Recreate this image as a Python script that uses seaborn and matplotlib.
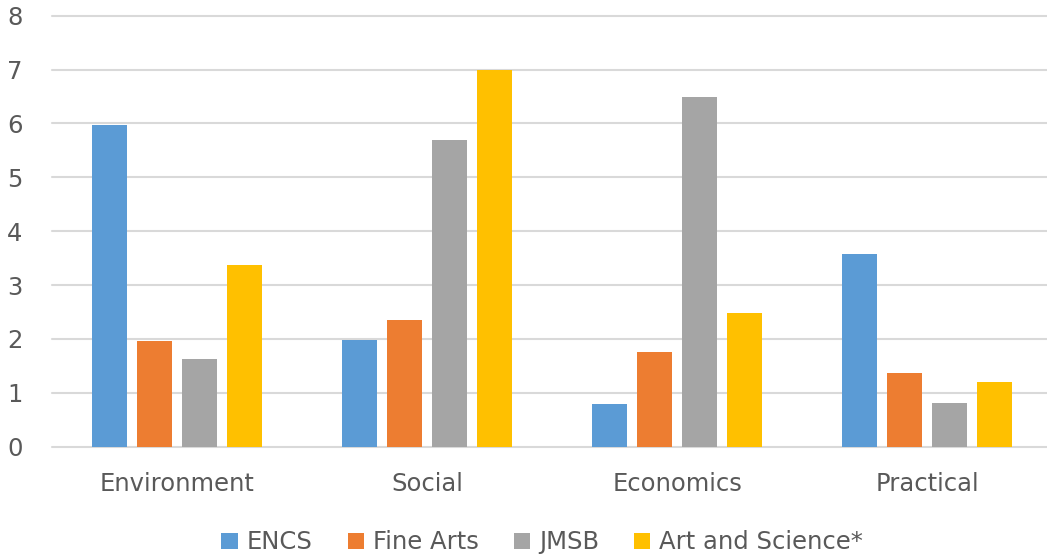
import matplotlib
matplotlib.use("Agg")
import matplotlib.pyplot as plt
import seaborn as sns
import pandas as pd

# Survey scores by topic and faculty
categories = ["Environment", "Social", "Economics", "Practical"]
faculties = ["ENCS", "Fine Arts", "JMSB", "Art and Science*"]
encs = [5.97, 1.99, 0.79, 3.58]
fine_arts = [1.96, 2.35, 1.76, 1.37]
jmsb = [1.62, 5.69, 6.50, 0.81]
art_science = [3.37, 6.99, 2.48, 1.20]
y_ticks = [0, 1, 2, 3, 4, 5, 6, 7, 8]

colors = ["#5B9BD5", "#ED7D31", "#A5A5A5", "#FFC000"]

rows = []
for fac, vals in zip(faculties, [encs, fine_arts, jmsb, art_science]):
    for cat, v in zip(categories, vals):
        rows.append({"Category": cat, "Faculty": fac, "Value": v})
df = pd.DataFrame(rows)

sns.set_theme(style="white")
plt.rcParams["font.family"] = ["DejaVu Sans"]

fig = plt.figure(figsize=(10.47, 5.57), dpi=100)
ax = fig.add_axes([0.04995, 0.198, 0.9551, 0.7738])

sns.barplot(data=df, x="Category", y="Value", hue="Faculty",
            order=categories, hue_order=faculties, palette=colors,
            width=0.72, gap=0.22, errorbar=None, saturation=1,
            linewidth=0, ax=ax, zorder=3)

ax.set_xlim(-0.5, 3.5)
ax.set_ylim(0, 8)
ax.set_yticks(y_ticks)
ax.set_yticklabels([str(t) for t in y_ticks])
ax.set_xlabel("")
ax.set_ylabel("")
ax.yaxis.grid(True, color="#D9D9D9", linewidth=1.5, zorder=0)
for gl in ax.get_ygridlines():
    gl.set_clip_on(False)
ax.set_axisbelow(True)
for s in ax.spines.values():
    s.set_visible(False)
ax.tick_params(axis="y", length=0, pad=21.5, labelsize=17.5, labelcolor="#595959")
ax.tick_params(axis="x", length=0, pad=18, labelsize=17.5, labelcolor="#595959")

ax.legend(loc="center", bbox_to_anchor=(0.49, -0.222), ncol=4,
          frameon=False, fontsize=17.5, handlelength=0.66,
          handleheight=0.66, handletextpad=0.37, columnspacing=1.45,
          labelcolor="#595959")

fig.savefig("out.png", dpi=100)
